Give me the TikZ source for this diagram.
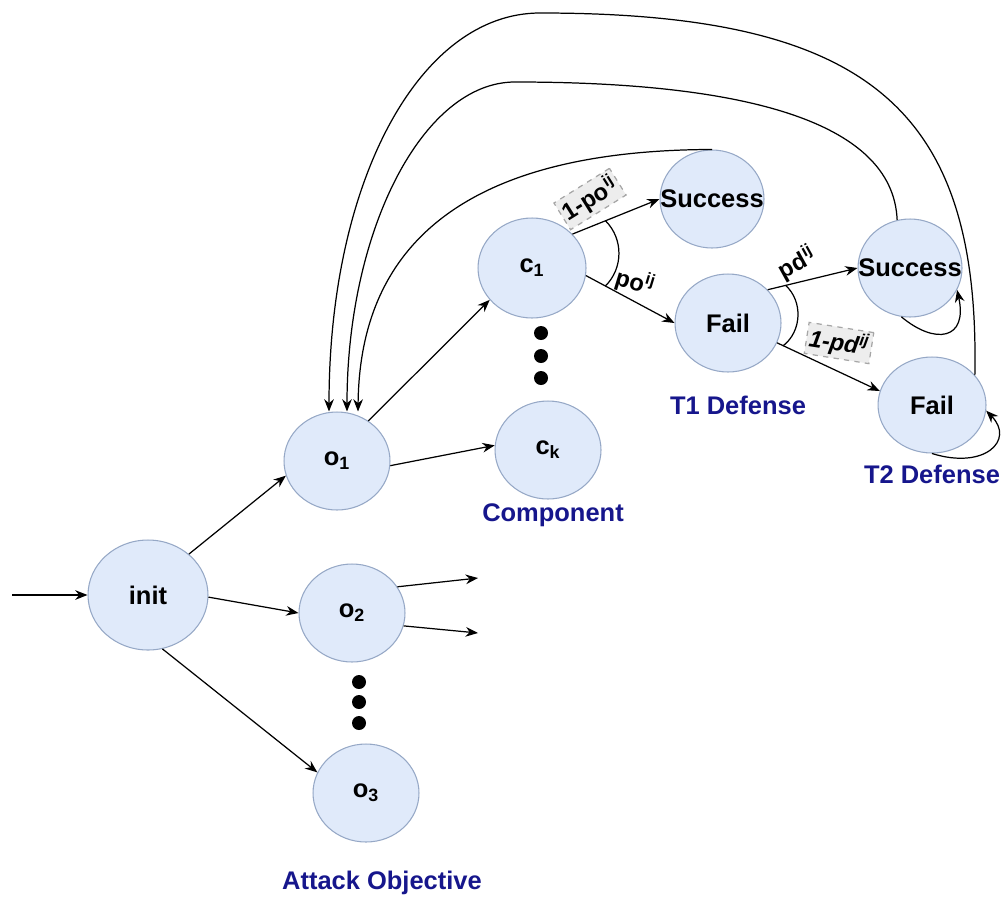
\documentclass[tikz,border=0pt]{standalone}
\usepackage{fontspec}
\setmainfont{Liberation Sans}
\usetikzlibrary{positioning,arrows.meta,shapes.geometric}
\definecolor{statefill}{RGB}{224,234,250}
\definecolor{stateline}{RGB}{150,168,198}
\definecolor{tagblue}{RGB}{22,22,140}

\begin{document}
\begin{tikzpicture}[
    x=0.02cm,y=-0.02cm,
    state/.style={ellipse,draw=stateline,fill=statefill,line width=0.6pt,inner sep=0pt,minimum width=2.12cm,minimum height=1.96cm,font=\fontsize{14.5}{17}\selectfont\bfseries},
    tag/.style={font=\fontsize{14.5}{17}\selectfont\bfseries,text=tagblue},
    prob/.style={font=\fontsize{13.5}{15}\selectfont\bfseries,inner sep=1.5pt},
    probbox/.style={prob,fill=black!7,draw=black!35,dashed},
    dot/.style={circle,fill=black,inner sep=0pt,minimum size=0.28cm},
    line width=0.7pt,->,>={Stealth[length=7pt,width=5.5pt]},
  ]
  \useasboundingbox (0,0) rectangle (1006,896);

  \node[state,minimum width=2.4cm,minimum height=2.2cm] (init) at (148,595) {init};
  \node[state] (o1) at (337,461) {o\textsubscript{1}};
  \node[state] (o2) at (352,613) {o\textsubscript{2}};
  \node[state] (o3) at (366,793) {o\textsubscript{3}};
  \node[state,minimum width=2.16cm,minimum height=2cm] (c1) at (532,268) {c\textsubscript{1}};
  \node[state] (ck) at (548,450) {c\textsubscript{k}};
  \node[state,minimum width=2.08cm] (s1) at (712,199) {\makebox[0pt]{Success}};
  \node[state] (f1) at (728,323) {Fail};
  \node[state,minimum width=2.08cm] (s2) at (910,268) {\makebox[0pt]{Success}};
  \node[state,minimum width=2.16cm,minimum height=1.92cm] (f2) at (932,405) {Fail};

  \node[tag] (tcomp) at (553,515) {Component};
  \node[tag] (tone) at (738,405) {T1 Defense};
  \node[tag] (ttwo) at (932,474) {T2 Defense};
  \node[tag] (tobj) at (382,883) {Attack Objective};

  \node[dot] (cd1) at (541,333) {};
  \node[dot] (cd2) at (541,356) {};
  \node[dot] (cd3) at (541,378) {};
  \node[dot] (od1) at (359,682) {};
  \node[dot] (od2) at (359,702) {};
  \node[dot] (od3) at (359,723) {};

  \coordinate (in) at (12,595);
  \coordinate (out1) at (478,578);
  \coordinate (out2) at (478,633);

  \draw (in) -- (init);
  \draw (init.45) -- (o1.196);
  \draw (init.-2) -- (o2.west);
  \draw (init.-75) -- (o3.157);
  \draw (o1.52) -- (c1.217);
  \draw (o1.-5) -- (ck.175);
  \draw (o2.30) -- (out1);
  \draw (o2.-14) -- (out2);

  \draw (c1.40) -- coordinate[pos=.38] (c1a) (s1.west);
  \draw (c1.-8) -- coordinate[pos=.22] (c1b) (f1.west);
  \draw (f1.40) -- coordinate[pos=.2] (f1a) (s2.west);
  \draw (f1.-22) -- coordinate[pos=.06] (f1b) (f2.165);
  \draw[-] (c1a) to[bend left=45] (c1b);
  \draw[-] (f1a) to[bend left=50] (f1b);

  \node[probbox,rotate=32] (lsucc) at (590,199) {1-po\textsuperscript{ij}};
  \node[prob,rotate=-17] (lfail) at (635,282) {po\textsuperscript{ij}};
  \node[prob,rotate=29] (ldsucc) at (797,263) {pd\textsuperscript{ij}};
  \node[probbox,rotate=-9,font=\fontsize{13.5}{15}\selectfont\bfseries\itshape] (ldfail) at (839,343) {1-pd\textsuperscript{ij}};

  % self loops
  \draw (s2.-100) .. controls (935,345) and (968,340) .. (s2.-25);
  \draw (f2.-90) .. controls (985,470) and (1015,440) .. (f2.-6);

  % back to the objective
  \draw (f2.35) .. controls (980,110) and (870,13) .. (540,13) .. controls (420,13) and (329,180) .. ([xshift=-0.16cm]o1.north);
  \draw (s2.105) .. controls (893,120) and (740,82) .. (515,82) .. controls (423,82) and (347,230) .. ([xshift=0.2cm]o1.north);
  \draw (s1.north) .. controls (500,150) and (360,220) .. ([xshift=0.42cm]o1.north);
\end{tikzpicture}
\end{document}
